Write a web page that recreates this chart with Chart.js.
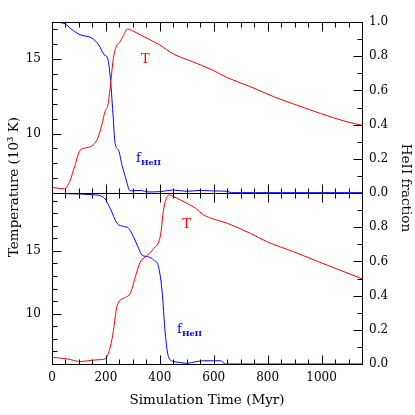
<!DOCTYPE html>
<html>
<head>
<meta charset="utf-8">
<script src="https://cdn.jsdelivr.net/npm/chart.js@4"></script>
<style>
  body { margin: 0; background: #fff; }
  #wrap { position: relative; width: 415px; height: 415px; }
</style>
</head>
<body>
<div id="wrap"><canvas id="simChart" width="415" height="415"></canvas></div>
<script>
// Top panel: temperature (10^3 K) and HeII fraction vs time (Myr)
const topTempTime = [0, 45, 67, 85, 104, 130, 154, 170, 185, 197, 207, 216, 228, 241, 250, 265, 280, 296, 327, 364, 400, 451, 513, 594, 650, 736, 823, 897, 996, 1095, 1150];
const topTemp = [6.38, 6.28, 6.84, 7.85, 8.87, 9.05, 9.25, 9.7, 10.6, 11.5, 11.9, 13.1, 15.1, 15.95, 16.1, 16.6, 17.03, 16.93, 16.64, 16.3, 15.95, 15.34, 14.89, 14.28, 13.76, 13.15, 12.47, 11.98, 11.35, 10.78, 10.55];
const topFracTime = [0, 48, 70, 104, 148, 173, 194, 206, 216, 226, 234, 247, 260, 272, 290, 327, 360, 400, 451, 500, 550, 600, 650, 665, 750, 1150];
const topFrac = [1.0, 0.99, 0.96, 0.926, 0.906, 0.867, 0.808, 0.789, 0.68, 0.467, 0.291, 0.25, 0.16, 0.095, 0.013, 0.015, 0.006, 0.008, 0.017, 0.01, 0.015, 0.012, 0.01, 0.002, 0.002, 0.002];

// Bottom panel
const botTempTime = [0, 55, 104, 150, 179, 197, 216, 228, 241, 272, 290, 309, 327, 346, 377, 402, 414, 427, 435, 445, 476, 532, 563, 631, 650, 736, 798, 897, 1021, 1150];
const botTemp = [6.53, 6.41, 6.2, 6.3, 6.35, 6.41, 7.34, 8.67, 10.6, 11.3, 11.6, 12.9, 14.1, 14.5, 15.19, 16.2, 18.3, 19.31, 19.45, 19.37, 19.05, 18.39, 17.85, 17.32, 17.19, 16.39, 15.72, 14.92, 13.86, 12.78];
const botFracTime = [0, 150, 191, 216, 241, 265, 284, 302, 321, 334, 358, 377, 395, 408, 420, 432, 450, 470, 501, 532, 560, 625, 643, 1150];
const botFrac = [0.998, 0.99, 0.975, 0.91, 0.823, 0.805, 0.794, 0.745, 0.677, 0.637, 0.627, 0.608, 0.569, 0.433, 0.18, 0.043, 0.015, 0.01, 0.004, 0.013, 0.019, 0.019, 0.0, 0.0];

const xTicks = { min: 0, max: 1150, major: 200, minor: 50 };

const serif = "'DejaVu Serif', serif";
const RED = "#ff0000";
const BLUE = "#0000ff";

const pairs = (xs, ys) => xs.map((x, i) => ({ x: x, y: ys[i] }));

function lineSet(label, xs, ys, color, axis) {
  return {
    label: label,
    data: pairs(xs, ys),
    borderColor: color,
    borderWidth: 1,
    pointRadius: 0,
    fill: false,
    cubicInterpolationMode: "monotone",
    yAxisID: axis
  };
}

// Frame, inward ticks, y titles and in-panel labels
const framePlugin = {
  id: "frame",
  afterDraw(chart) {
    const ctx = chart.ctx;
    const xs = chart.scales.x;
    const left = Math.round(chart.chartArea.left) + 0.5;
    const right = Math.round(chart.chartArea.right) + 0.5;
    const line = (x1, y1, x2, y2) => {
      ctx.beginPath(); ctx.moveTo(x1, y1); ctx.lineTo(x2, y2); ctx.stroke();
    };
    ctx.save();
    ctx.strokeStyle = "#000";
    ctx.lineWidth = 1;

    [["yT1", "yF1"], ["yT2", "yF2"]].forEach(([tId, fId]) => {
      const yt = chart.scales[tId];
      const yf = chart.scales[fId];
      const top = Math.round(yt.top) + 0.5;
      const bottom = Math.round(yt.bottom) + 0.5;
      ctx.strokeRect(left, top, right - left, bottom - top);

      // x ticks on top and bottom edge
      for (let v = xTicks.min; v <= xTicks.max; v += xTicks.minor) {
        const px = Math.round(xs.getPixelForValue(v)) + 0.5;
        const len = v % xTicks.major === 0 ? 9 : 5;
        line(px, top, px, top + len);
        line(px, bottom, px, bottom - len);
      }
      // temperature ticks on left edge
      for (let v = Math.ceil(yt.min); v <= yt.max; v++) {
        const py = Math.round(yt.getPixelForValue(v)) + 0.5;
        line(left, py, left + (v % 5 === 0 ? 9 : 5), py);
      }
      // fraction ticks on right edge
      for (let i = 0; i <= 10; i++) {
        const py = Math.round(yf.getPixelForValue(i / 10)) + 0.5;
        line(right, py, right - (i % 2 === 0 ? 9 : 5), py);
      }
    });

    ctx.fillStyle = "#000";
    ctx.font = "13.5px " + serif;
    ctx.textAlign = "center";
    ctx.textBaseline = "middle";
    const midY = (chart.chartArea.top + chart.chartArea.bottom) / 2;
    ctx.save();
    ctx.translate(14, midY - 6);
    ctx.rotate(-Math.PI / 2);
    ctx.fillText("Temperature (10³ K)", 0, 0);
    ctx.restore();
    ctx.save();
    ctx.translate(405, midY - 5);
    ctx.rotate(Math.PI / 2);
    ctx.fillText("HeII fraction", 0, 0);
    ctx.restore();

    // labels placed at data coordinates
    const tLabel = (axis, t, v) => {
      ctx.fillStyle = RED;
      ctx.font = "13px " + serif;
      ctx.textAlign = "center";
      ctx.textBaseline = "middle";
      ctx.fillText("T", xs.getPixelForValue(t), chart.scales[axis].getPixelForValue(v));
    };
    const fLabel = (axis, t, v) => {
      const px = xs.getPixelForValue(t);
      const py = chart.scales[axis].getPixelForValue(v);
      ctx.fillStyle = BLUE;
      ctx.textAlign = "left";
      ctx.textBaseline = "alphabetic";
      ctx.font = "13px " + serif;
      ctx.fillText("f", px, py);
      const w = ctx.measureText("f").width;
      ctx.font = "bold 8px " + serif;
      ctx.fillText("HeII", px + w, py + 3);
    };
    tLabel("yT1", 346, 15.0);
    fLabel("yF1", 312, 0.183);
    tLabel("yT2", 499, 17.08);
    fLabel("yF2", 464, 0.18);
    ctx.restore();
  }
};

const tickFont = { family: serif, size: 12 };
const titleFont = { family: serif, size: 13.5 };
const noGrid = { display: false, drawTicks: false };

new Chart(document.getElementById("simChart"), {
  type: "line",
  data: {
    datasets: [
      lineSet("T top", topTempTime, topTemp, RED, "yT1"),
      lineSet("f top", topFracTime, topFrac, BLUE, "yF1"),
      lineSet("T bottom", botTempTime, botTemp, RED, "yT2"),
      lineSet("f bottom", botFracTime, botFrac, BLUE, "yF2")
    ]
  },
  options: {
    responsive: false,
    animation: false,
    devicePixelRatio: 1,
    layout: { padding: { top: 22, left: 0, right: 0, bottom: 0 } },
    plugins: { legend: { display: false }, tooltip: { enabled: false } },
    scales: {
      x: {
        type: "linear",
        position: "bottom",
        min: xTicks.min,
        max: xTicks.max,
        grid: noGrid,
        border: { display: false },
        ticks: { stepSize: xTicks.major, includeBounds: false, font: tickFont, color: "#000", padding: 7, maxRotation: 0, callback: v => String(v) },
        title: { display: true, text: "Simulation Time (Myr)", font: titleFont, color: "#000", padding: { top: 0, bottom: 6 } },
        afterFit: s => { s.height = 51; }
      },
      // left boxes are stacked in reverse order, so the lower panel comes first
      yT2: {
        type: "linear", position: "left", stack: "left", stackWeight: 1,
        min: 6, max: 19.6,
        grid: noGrid, border: { display: false },
        ticks: { stepSize: 5, includeBounds: false, font: tickFont, color: "#000", padding: 11 },
        afterFit: s => { s.width = 52; }
      },
      yT1: {
        type: "linear", position: "left", stack: "left", stackWeight: 1,
        min: 6, max: 17.5,
        grid: noGrid, border: { display: false },
        ticks: { stepSize: 5, includeBounds: false, font: tickFont, color: "#000", padding: 11 },
        afterFit: s => { s.width = 52; }
      },
      yF1: {
        type: "linear", position: "right", stack: "right", stackWeight: 1,
        min: 0, max: 1,
        grid: noGrid, border: { display: false },
        ticks: { stepSize: 0.2, font: tickFont, color: "#000", padding: 7, callback: v => v.toFixed(1) },
        afterFit: s => { s.width = 53; }
      },
      yF2: {
        type: "linear", position: "right", stack: "right", stackWeight: 1,
        min: 0, max: 1,
        grid: noGrid, border: { display: false },
        ticks: { stepSize: 0.2, font: tickFont, color: "#000", padding: 7, callback: v => v > 0.99 ? "" : v.toFixed(1) },
        afterFit: s => { s.width = 53; }
      }
    }
  },
  plugins: [framePlugin]
});
</script>
</body>
</html>
